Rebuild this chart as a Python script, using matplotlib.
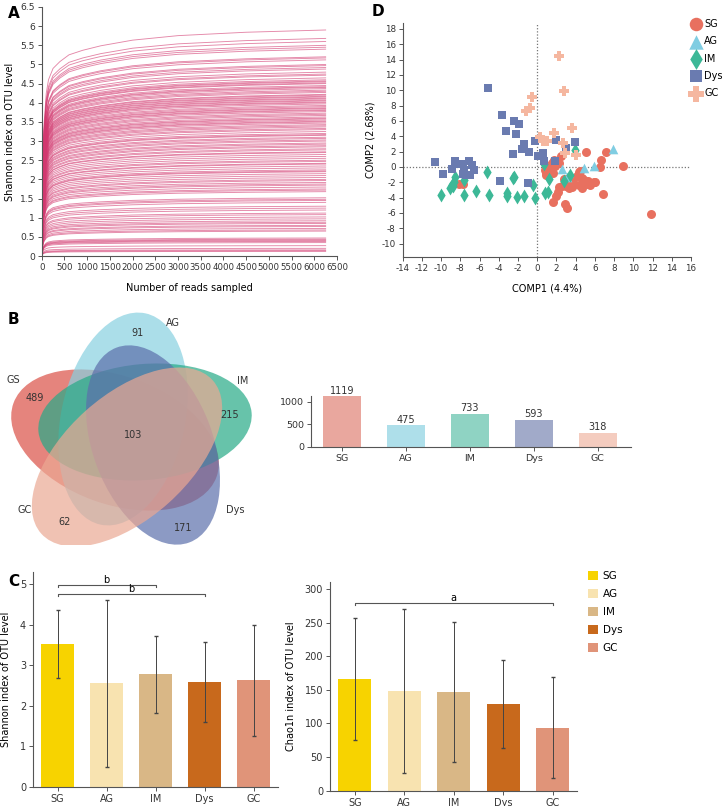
import numpy as np
import matplotlib

matplotlib.use("Agg")
import matplotlib.pyplot as plt
from matplotlib.patches import Ellipse, Patch

plt.rcParams["font.family"] = "DejaVu Sans"
plt.rcParams["axes.unicode_minus"] = False

W, H = 728, 806

# ---- A: rarefaction curves (shared saturation shape x per-sample plateau)
A_READS = [0, 10, 25, 50, 100, 150, 250, 400, 600, 900, 1300, 2000, 3000, 4500, 6250]
A_SHAPE = [0, 0.2, 0.42, 0.58, 0.72, 0.78, 0.83, 0.86, 0.89, 0.91, 0.93, 0.955, 0.975, 0.99, 1.0]
A_PLATEAU = [
    5.9, 5.68, 5.6, 5.5, 5.45, 5.4, 5.2, 5.17, 5.12, 5.0, 4.97, 4.92, 4.88, 4.8, 4.75,
    4.72, 4.65, 4.6, 4.57, 4.55, 4.52, 4.5, 4.45, 4.42, 4.4, 4.37, 4.33, 4.3, 4.27, 4.22,
    4.2, 4.17, 4.15, 4.12, 4.1, 4.07, 4.05, 4.02, 4.0, 3.97, 3.93, 3.9, 3.87, 3.85, 3.82,
    3.8, 3.77, 3.73, 3.7, 3.67, 3.63, 3.6, 3.58, 3.55, 3.52, 3.5, 3.47, 3.43, 3.4, 3.37,
    3.33, 3.3, 3.25, 3.2, 3.17, 3.15, 3.1, 3.07, 3.03, 3.0, 2.95, 2.92, 2.88, 2.85, 2.8,
    2.77, 2.72, 2.7, 2.65, 2.6, 2.55, 2.5, 2.47, 2.42, 2.4, 2.35, 2.3, 2.25, 2.22, 2.2,
    2.15, 2.1, 2.05, 2.0, 1.97, 1.92, 1.88, 1.85, 1.8, 1.75, 1.72, 1.68, 1.52, 1.48, 1.45,
    1.4, 1.3, 1.25, 1.2, 1.12, 1.08, 1.02, 0.97, 0.92, 0.88, 0.85, 0.8, 0.77, 0.72, 0.68,
    0.65, 0.47, 0.44, 0.42, 0.4, 0.38, 0.35, 0.27, 0.2, 0.16, 0.14, 0.12,
]

# ---- D: PLS-DA style scores
GROUPS = ["SG", "AG", "IM", "Dys", "GC"]
SG_X = [11.84, 8.96, 7.16, 6.6, 6.5, 5.05, 6.8, 5.98, 5.94, 5.15, 4.63, 4.63, 4.3, 4.1, 4.4,
        4.7, 3.75, 3.58, 2.99, 2.89, 2.79, 2.44, 2.55, 2.2, 2.0, 1.61, 2.89, 3.07, 2.3, 1.68,
        0.98, 0.85, 1.16, 1.4, 1.61, 1.85, 0.91, 1.05, 2.09, 1.74, 1.26, 1.5, 5.1, 5.5, 4.9,
        4.3, 2.3, 3.06, -8.14, -7.76, 3.3, 5.3, 0.95, 1.3]
SG_Y = [-6.1, 0.1, 2.0, 0.88, 0.0, 2.0, -3.46, -1.9, -2.0, -2.07, -2.76, -1.42, -0.7, -1.2, -0.5,
        -1.6, -1.93, -2.6, -2.5, -2.38, -1.55, 1.4, -2.5, -3.3, -3.8, -4.58, -4.85, -5.41, 0.53, -0.8,
        -0.86, -0.4, -0.12, 0.23, 0.53, 0.1, -0.77, -0.12, 0.74, 0.97, 0.1, 0.54, -2.2, -2.3, -1.7,
        -2.3, -2.6, -2.5, -2.2, -2.16, -2.7, -1.8, -1.1, -0.5]
AG_X = [2.55, 4.85, 5.95, 7.9, 3.1]
AG_Y = [-0.25, -0.12, 0.15, 2.35, -1.3]
IM_X = [-10.05, -9.1, -8.9, -8.7, -8.56, -7.65, -7.62, -6.37, -5.26, -4.98, -3.1, -3.1, -2.53,
        -2.4, -2.14, -1.34, -0.4, -0.23, 0.85, 1.12, 1.26, 0.72, 2.75, 3.41, 3.97, -8.8]
IM_Y = [-3.63, -2.74, -2.37, -1.9, -1.3, -1.64, -3.59, -3.09, -0.68, -3.63, -3.37, -3.75, -1.5,
        -1.3, -3.89, -3.72, -2.3, -4.02, -3.37, -3.2, -1.6, 0.4, -1.86, -1.1, 2.27, -2.5]
DYS_X = [-10.6, -9.84, -8.9, -8.59, -8.17, -7.69, -7.58, -7.41, -7.06, -6.99, -6.75, -6.58,
         -5.12, -3.63, -3.28, -2.42, -2.21, -1.89, -1.37, -1.55, -0.89, -0.23, 0.12, 0.64, 0.74,
         1.92, 2.96, 3.93, 1.85, -3.87, -0.99, -2.52, -7.69]
DYS_Y = [0.66, -0.86, -0.25, 0.79, 0.44, 0.44, -0.34, -0.99, 0.79, -0.99, 0.27, -0.42,
         10.28, 6.77, 4.69, 6.04, 4.26, 5.65, 2.96, 2.4, 1.96, 3.35, 1.44, 1.83, 0.83,
         3.57, 2.44, 3.22, 0.75, -1.77, -2.03, 1.7, -0.9]
GC_X = [2.3, 2.82, -0.58, -1.18, -0.8, 3.6, 1.72, 0.25, 0.57, 0.98, 2.63, 2.93, 4.05]
GC_Y = [14.49, 9.9, 9.1, 7.36, 7.68, 5.07, 4.44, 3.85, 3.4, 3.45, 3.14, 1.85, 1.61]

# ---- B: Venn counts and total OTUs per group
VENN_NAMES = ["GS", "AG", "IM", "Dys", "GC"]
VENN_UNIQUE = [489, 91, 215, 171, 62]
VENN_CORE = 103
OTU_GROUPS = ["SG", "AG", "IM", "Dys", "GC"]
OTU_COUNTS = [1119, 475, 733, 593, 318]

# ---- C: alpha diversity (mean, sd)
SHANNON_MEAN = [3.52, 2.55, 2.78, 2.58, 2.63]
SHANNON_SD = [0.84, 2.07, 0.95, 0.98, 1.37]
CHAO_MEAN = [166, 149, 147, 129, 94]
CHAO_SD = [91, 122, 104, 65, 75]


def px_axes(fig, x0, y0, x1, y1):
    # box given in image pixels, origin top-left
    return fig.add_axes([x0 / W, 1 - y1 / H, (x1 - x0) / W, (y1 - y0) / H])


def style(ax, fs=6.5):
    for s in ("top", "right"):
        ax.spines[s].set_visible(False)
    for s in ("left", "bottom"):
        ax.spines[s].set_color("#555555")
        ax.spines[s].set_linewidth(0.8)
    ax.tick_params(direction="out", length=3, width=0.7, color="#555555",
                   labelsize=fs, labelcolor="#333333", pad=2)


fig = plt.figure(figsize=(W / 100, H / 100), dpi=100)

# ---------------- A
axA = px_axes(fig, 41.7, 7, 337, 256)
for p in A_PLATEAU:
    axA.plot(A_READS, [p * f for f in A_SHAPE], color="#d2386f", lw=0.65, alpha=0.6)
axA.set_xlim(0, 6500)
axA.set_ylim(0, 6.5)
axA.set_xticks(range(0, 6501, 500))
yt = np.arange(0, 6.51, 0.5)
axA.set_yticks(yt)
axA.set_yticklabels([f"{v:g}" for v in yt])
style(axA, 6.2)
axA.tick_params(axis="y", labelsize=6.6)
axA.set_xlabel("Number of reads sampled", fontsize=7, labelpad=8)
axA.set_ylabel("Shannon index on OTU level", fontsize=7, labelpad=4)
fig.text(8 / W, 1 - 13 / H, "A", fontsize=11, fontweight="bold", va="center")

# ---------------- D
axD = px_axes(fig, 402.7, 23.3, 691, 256.7)
axD.axhline(0, color="#777777", lw=0.9, ls=(0, (1, 1.5)))
axD.axvline(0, color="#777777", lw=0.9, ls=(0, (1, 1.5)))
axD.scatter(SG_X, SG_Y, s=42, marker="o", color="#e8705f", label="SG", zorder=3, lw=0)
axD.scatter(AG_X, AG_Y, s=48, marker="^", color="#80cde2", label="AG", zorder=3, lw=0)
axD.scatter(IM_X, IM_Y, s=50, marker="d", color="#3db897", label="IM", zorder=3, lw=0)
axD.scatter(DYS_X, DYS_Y, s=36, marker="s", color="#6a7bb0", label="Dys", zorder=3, lw=0)
axD.scatter(GC_X, GC_Y, s=52, marker="P", color="#f5b7a0", label="GC", zorder=3, lw=0)
axD.set_xlim(-14, 16)
axD.set_ylim(-11.7, 18.74)
axD.set_xticks(range(-14, 17, 2))
axD.set_yticks(range(-10, 19, 2))
style(axD, 6.3)
axD.set_xlabel("COMP1 (4.4%)", fontsize=7, labelpad=8)
axD.set_ylabel("COMP2 (2.68%)", fontsize=7, labelpad=4)
axD.legend(loc="upper left", bbox_to_anchor=(691 / W, 1 - 19 / H),
           bbox_transform=fig.transFigure, frameon=False, fontsize=7,
           markerscale=1.5, handlelength=1.0, handletextpad=0.35,
           labelspacing=0.75, borderpad=0, borderaxespad=0)
fig.text(372 / W, 1 - 12 / H, "D", fontsize=11, fontweight="bold", va="center")

# ---------------- B venn
axV = px_axes(fig, 0, 300, 280, 545)
axV.set_xlim(0, 280)
axV.set_ylim(545, 300)
axV.axis("off")
venn_shapes = [  # centre x, centre y, semi-major, semi-minor, angle (pixels)
    (115, 440, 108, 64, 20),
    (123, 419, 108, 62, 102),
    (145, 422, 107, 58, -5),
    (153, 445, 104, 60, 69.5),
    (127, 457, 115, 62, -41.8),
]
venn_colors = ["#da5046", "#88d0e0", "#26aa87", "#5c6fab", "#eba893"]
for (cx, cy, a, b, ang), col in zip(venn_shapes, venn_colors):
    axV.add_patch(Ellipse((cx, cy), 2 * a, 2 * b, angle=ang, facecolor=col,
                          edgecolor="none", alpha=0.7))
name_pos = [(13, 380), (173, 323), (243, 381), (235, 510), (25, 510)]
count_pos = [(35, 398), (138, 333), (230, 415), (183, 528), (65, 522)]
for name, (x, y) in zip(VENN_NAMES, name_pos):
    axV.text(x, y, name, fontsize=7, ha="center", va="center", color="#333333")
for cnt, (x, y) in zip(VENN_UNIQUE, count_pos):
    axV.text(x, y, str(cnt), fontsize=7, ha="center", va="center", color="#333333")
axV.text(133, 435, str(VENN_CORE), fontsize=7, ha="center", va="center", color="#333333")
fig.text(8 / W, 1 - 320 / H, "B", fontsize=11, fontweight="bold", va="center")

# ---------------- B bars
axB = px_axes(fig, 311, 396, 631, 447)
xb = np.arange(len(OTU_GROUPS))
bar_cols = ["#e9a79e", "#aedfea", "#8fd3c3", "#a1aac9", "#f4ccbf"]
axB.bar(xb, OTU_COUNTS, width=0.6, color=bar_cols)
for x, v in zip(xb, OTU_COUNTS):
    axB.text(x, v + 15, str(v), ha="center", va="bottom", fontsize=7, color="#333333")
axB.set_xlim(-0.48, 4.52)
axB.set_ylim(0, 1123)
axB.set_xticks(xb)
axB.set_xticklabels(OTU_GROUPS)
axB.set_yticks([0, 500, 1000])
style(axB, 6.8)

# ---------------- C shannon
shan_cols = ["#f7d300", "#f8e3b0", "#d9b786", "#c8691c", "#e09479"]
axC1 = px_axes(fig, 33, 572, 278, 786.7)
xc = np.arange(5)
axC1.bar(xc, SHANNON_MEAN, width=0.67, color=shan_cols)
axC1.errorbar(xc, SHANNON_MEAN, yerr=SHANNON_SD, fmt="none", ecolor="#444444",
              elinewidth=0.7, capsize=1.2)
axC1.set_xlim(-0.5, 4.5)
axC1.set_ylim(0, 5.3)
axC1.set_xticks(xc)
axC1.set_xticklabels(GROUPS)
axC1.set_yticks(range(0, 6))
style(axC1, 7)
axC1.set_ylabel("Shannon index of OTU level", fontsize=7, labelpad=6)
for (i, j, y, lab) in [(0, 2, 4.97, "b"), (0, 3, 4.75, "b")]:
    axC1.plot([i, i, j, j], [y - 0.05, y, y, y - 0.05], color="#555555", lw=0.8)
    axC1.text((i + j) / 2, y, lab, ha="center", va="bottom", fontsize=7)
fig.text(8 / W, 1 - 581 / H, "C", fontsize=11, fontweight="bold", va="center")

# ---------------- C chao1
axC2 = px_axes(fig, 330, 581.7, 577.3, 790.7)
axC2.bar(xc, CHAO_MEAN, width=0.67, color=shan_cols)
axC2.errorbar(xc, CHAO_MEAN, yerr=CHAO_SD, fmt="none", ecolor="#444444",
              elinewidth=0.7, capsize=1.2)
axC2.set_xlim(-0.5, 4.5)
axC2.set_ylim(0, 311)
axC2.set_xticks(xc)
axC2.set_xticklabels(GROUPS)
axC2.set_yticks(range(0, 301, 50))
style(axC2, 7)
axC2.set_ylabel("Chao1n index of OTU level", fontsize=7, labelpad=6)
axC2.plot([0, 0, 4, 4], [277, 280, 280, 277], color="#555555", lw=0.8)
axC2.text(2, 280, "a", ha="center", va="bottom", fontsize=7)
handles = [Patch(facecolor=c, edgecolor="none") for c in shan_cols]
axC2.legend(handles, GROUPS, loc="upper left", bbox_to_anchor=(588 / W, 1 - 571 / H),
            bbox_transform=fig.transFigure, frameon=False, fontsize=7.5,
            handlelength=1.0, handleheight=1.0, handletextpad=0.4, labelspacing=0.75,
            borderpad=0, borderaxespad=0)

fig.savefig("out.png", dpi=100)
